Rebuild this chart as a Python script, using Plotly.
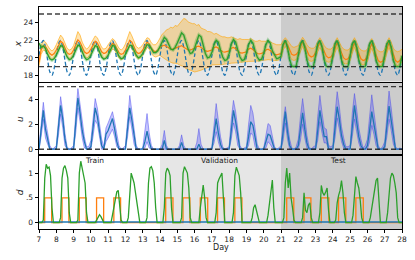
import numpy as np
import plotly.graph_objects as go
from plotly.subplots import make_subplots

# ---------------- data ----------------
DAY_START, DAY_END = 7, 28
SAMPLES_X = 8     # samples per day for x and u series
SAMPLES_D = 12    # samples per day for d series

# reference temperature (blue dashed), one row per day
x_ref_rows = [
    [20.25, 21.58, 21.98, 21.22, 19.75, 18.42, 18.02, 18.78],
    [20.25, 21.58, 21.98, 21.22, 19.75, 18.42, 18.02, 18.78],
    [20.25, 21.58, 21.98, 21.22, 19.75, 18.42, 18.02, 18.78],
    [20.25, 21.58, 21.98, 21.22, 19.75, 18.42, 18.02, 18.78],
    [20.25, 21.58, 21.98, 21.22, 19.75, 18.42, 18.02, 18.78],
    [20.25, 21.58, 21.98, 21.22, 19.75, 18.42, 18.02, 18.78],
    [20.25, 21.58, 21.98, 21.22, 19.75, 18.42, 18.02, 18.78],
    [20.25, 21.58, 21.98, 21.22, 19.75, 18.42, 18.02, 18.78],
    [20.25, 21.58, 21.98, 21.22, 19.75, 18.42, 18.02, 18.78],
    [20.25, 21.58, 21.98, 21.22, 19.75, 18.42, 18.02, 18.78],
    [20.25, 21.58, 21.98, 21.22, 19.75, 18.42, 18.02, 18.78],
    [20.25, 21.58, 21.98, 21.22, 19.75, 18.42, 18.02, 18.78],
    [20.25, 21.58, 21.98, 21.22, 19.75, 18.42, 18.02, 18.78],
    [20.25, 21.58, 21.98, 21.22, 19.75, 18.42, 18.02, 18.78],
    [20.25, 21.58, 21.98, 21.22, 19.75, 18.42, 18.02, 18.78],
    [20.25, 21.58, 21.98, 21.22, 19.75, 18.42, 18.02, 18.78],
    [20.25, 21.58, 21.98, 21.22, 19.75, 18.42, 18.02, 18.78],
    [20.25, 21.58, 21.98, 21.22, 19.75, 18.42, 18.02, 18.78],
    [20.25, 21.58, 21.98, 21.22, 19.75, 18.42, 18.02, 18.78],
    [20.25, 21.58, 21.98, 21.22, 19.75, 18.42, 18.02, 18.78],
    [20.25, 21.58, 21.98, 21.22, 19.75, 18.42, 18.02, 18.78],
]
x_ref_end = 20.25

# green: true/simulated state x
x_true_rows = [
    [21.7, 21.2, 21.35, 21.05, 20.4, 19.9, 19.75, 19.9],
    [20.3, 20.9, 21.4, 21.3, 20.7, 20.1, 19.8, 19.9],
    [20.3, 21.0, 21.45, 21.35, 20.7, 20.1, 19.8, 19.9],
    [20.3, 20.9, 21.4, 21.3, 20.7, 20.1, 19.85, 19.95],
    [20.3, 20.9, 21.4, 21.35, 20.8, 20.2, 19.9, 20.0],
    [20.4, 21.0, 21.45, 21.4, 20.85, 20.3, 20.0, 20.15],
    [20.5, 21.0, 21.5, 21.45, 21.0, 20.6, 20.6, 20.8],
    [21.3, 21.9, 22.35, 22.1, 21.5, 21.0, 20.9, 21.2],
    [21.7, 22.4, 22.85, 22.6, 21.8, 21.0, 20.5, 20.6],
    [21.1, 22.0, 22.6, 22.4, 21.4, 20.5, 20.0, 20.1],
    [20.6, 21.5, 22.0, 21.8, 20.9, 20.1, 19.7, 19.8],
    [20.5, 21.6, 22.1, 21.8, 20.9, 20.1, 19.7, 19.8],
    [20.5, 21.5, 22.0, 21.7, 20.8, 20.1, 19.75, 19.85],
    [20.5, 21.5, 22.0, 21.7, 20.8, 20.4, 19.9, 20.0],
    [20.2, 21.55, 21.98, 21.2, 19.8, 19.05, 19.0, 19.05],
    [20.25, 21.58, 21.98, 21.22, 19.75, 19.02, 19.0, 19.02],
    [20.25, 21.58, 21.98, 21.22, 19.75, 19.02, 19.0, 19.02],
    [20.25, 21.58, 21.98, 21.22, 19.75, 19.02, 19.0, 19.02],
    [20.25, 21.58, 21.98, 21.22, 19.75, 19.02, 19.0, 19.02],
    [20.25, 21.58, 21.98, 21.22, 19.75, 19.02, 19.0, 19.02],
    [20.25, 21.58, 21.98, 21.22, 19.75, 19.02, 19.0, 19.02],
]
x_true_end = 20.25

# orange: predicted x mean
x_pred_rows = [
    [19.5, 20.9, 21.4, 21.3, 20.9, 20.5, 20.3, 20.5],
    [20.9, 21.5, 21.9, 21.7, 21.1, 20.6, 20.4, 20.5],
    [20.9, 21.6, 22.05, 21.8, 21.2, 20.7, 20.5, 20.6],
    [21.0, 21.5, 21.9, 21.7, 21.1, 20.7, 20.5, 20.6],
    [20.9, 21.3, 21.65, 21.5, 21.0, 20.6, 20.4, 20.5],
    [20.9, 21.5, 22.0, 21.8, 21.2, 20.7, 20.5, 20.6],
    [20.9, 21.4, 21.8, 21.6, 21.1, 20.8, 20.7, 20.9],
    [21.2, 21.35, 21.45, 21.3, 21.1, 21.0, 21.0, 21.1],
    [21.2, 21.3, 21.4, 21.2, 21.0, 20.9, 20.9, 21.0],
    [21.1, 21.3, 21.35, 21.2, 21.0, 20.8, 20.75, 20.8],
    [20.9, 21.15, 21.25, 21.1, 20.85, 20.7, 20.65, 20.7],
    [20.8, 21.1, 21.2, 21.05, 20.8, 20.6, 20.55, 20.6],
    [20.7, 21.0, 21.1, 20.95, 20.7, 20.5, 20.45, 20.5],
    [20.6, 20.9, 21.0, 20.85, 20.6, 20.4, 20.35, 20.4],
    [20.5, 21.4, 21.85, 21.5, 20.9, 20.4, 20.3, 20.4],
    [20.7, 21.4, 21.85, 21.4, 20.8, 20.3, 20.1, 20.2],
    [20.6, 21.3, 21.8, 21.3, 20.7, 20.2, 20.0, 20.1],
    [20.4, 21.2, 21.75, 21.2, 20.5, 20.0, 19.8, 19.9],
    [20.3, 21.1, 21.75, 21.1, 20.4, 19.9, 19.7, 19.8],
    [20.2, 21.0, 21.65, 21.0, 20.3, 19.7, 19.5, 19.6],
    [20.2, 21.1, 21.75, 21.1, 20.3, 19.7, 19.5, 19.7],
]
x_pred_end = 20.1

x_pred_hi_rows = [
    [19.9, 21.4, 22.0, 21.8, 21.4, 21.0, 20.8, 21.0],
    [21.5, 22.1, 22.6, 22.3, 21.6, 21.1, 20.9, 21.0],
    [21.4, 22.2, 23.0, 22.6, 21.8, 21.3, 21.0, 21.2],
    [21.6, 22.1, 22.5, 22.3, 21.7, 21.2, 21.0, 21.1],
    [21.5, 21.9, 22.2, 22.0, 21.5, 21.1, 20.9, 21.1],
    [21.6, 22.4, 23.0, 22.5, 21.8, 21.3, 21.1, 21.2],
    [21.5, 21.9, 22.3, 22.2, 21.7, 21.5, 21.5, 21.8],
    [22.2, 22.7, 22.9, 23.2, 23.3, 23.5, 23.4, 23.7],
    [23.6, 23.9, 24.3, 24.5, 24.4, 24.1, 24.0, 23.9],
    [23.9, 23.7, 23.8, 23.4, 23.3, 23.2, 23.0, 23.0],
    [22.9, 22.7, 22.8, 22.6, 22.5, 22.4, 22.4, 22.3],
    [22.3, 22.4, 22.3, 22.2, 22.1, 22.2, 22.1, 22.1],
    [22.1, 22.1, 22.2, 22.0, 21.9, 21.9, 22.0, 21.9],
    [21.9, 21.9, 22.0, 21.8, 21.7, 21.6, 21.5, 21.5],
    [21.5, 22.0, 22.3, 22.0, 21.6, 21.3, 21.2, 21.3],
    [21.4, 21.9, 22.35, 22.0, 21.5, 21.2, 21.1, 21.1],
    [21.3, 21.9, 22.3, 21.9, 21.4, 21.1, 21.0, 21.0],
    [21.2, 21.8, 22.3, 21.8, 21.3, 21.0, 20.9, 20.9],
    [21.1, 21.8, 22.3, 21.8, 21.2, 20.9, 20.8, 20.8],
    [21.0, 21.7, 22.2, 21.7, 21.1, 20.8, 20.7, 20.7],
    [21.0, 21.8, 22.3, 21.8, 21.1, 20.8, 20.7, 20.8],
]
x_pred_hi_end = 21.0

x_pred_lo_rows = [
    [19.1, 20.4, 20.9, 20.8, 20.4, 20.0, 19.8, 20.0],
    [20.4, 21.0, 21.3, 21.2, 20.6, 20.1, 19.9, 20.0],
    [20.4, 21.1, 21.4, 21.2, 20.6, 20.2, 20.0, 20.1],
    [20.5, 21.0, 21.3, 21.1, 20.5, 20.1, 19.9, 20.0],
    [20.3, 20.7, 21.0, 20.9, 20.4, 20.0, 19.8, 19.9],
    [20.3, 20.9, 21.3, 21.1, 20.5, 20.1, 19.9, 20.0],
    [20.3, 20.8, 21.2, 21.0, 20.5, 20.2, 20.1, 20.2],
    [20.3, 20.1, 19.9, 19.7, 19.6, 19.5, 19.4, 19.4],
    [19.35, 19.2, 19.1, 19.0, 18.8, 18.7, 18.6, 18.5],
    [18.4, 18.45, 18.5, 18.6, 18.7, 18.8, 18.9, 19.0],
    [19.2, 19.2, 19.25, 19.2, 19.2, 19.25, 19.3, 19.3],
    [19.35, 19.4, 19.4, 19.45, 19.45, 19.5, 19.5, 19.5],
    [19.55, 19.6, 19.6, 19.6, 19.6, 19.65, 19.65, 19.7],
    [19.7, 19.75, 19.8, 19.75, 19.7, 19.7, 19.7, 19.75],
    [19.9, 20.9, 21.3, 20.9, 20.2, 19.8, 19.7, 19.8],
    [20.1, 20.8, 21.3, 20.8, 20.1, 19.7, 19.6, 19.7],
    [20.0, 20.7, 21.2, 20.7, 20.0, 19.6, 19.5, 19.6],
    [19.8, 20.6, 21.2, 20.6, 19.8, 19.4, 19.3, 19.4],
    [19.7, 20.5, 21.2, 20.5, 19.7, 19.3, 19.2, 19.3],
    [19.6, 20.4, 21.1, 20.4, 19.6, 19.2, 19.1, 19.2],
    [19.6, 20.5, 21.2, 20.5, 19.6, 19.2, 19.1, 19.3],
]
x_pred_lo_end = 19.5

# input u: mean and band
u_mean_rows = [
    [0.0, 1.6, 3.1, 1.6, 0.9, 0.0, 0.0, 0.0],
    [0.0, 1.8, 3.5, 2.4, 0.8, 0.0, 0.0, 0.0],
    [0.0, 2.1, 4.1, 2.9, 1.5, 0.6, 0.0, 0.0],
    [0.2, 1.7, 3.3, 2.6, 1.4, 0.3, 0.0, 1.2],
    [1.5, 2.0, 2.45, 1.6, 0.6, 0.0, 0.0, 0.0],
    [0.0, 1.7, 3.3, 2.3, 1.0, 0.0, 0.0, 0.0],
    [0.0, 0.6, 1.45, 0.6, 0.0, 0.0, 0.0, 0.0],
    [0.0, 0.0, 0.7, 0.0, 0.0, 0.0, 0.0, 0.0],
    [0.0, 0.0, 0.55, 0.0, 0.0, 0.0, 0.0, 0.0],
    [0.0, 0.0, 0.4, 0.0, 0.0, 0.0, 0.0, 0.0],
    [0.0, 1.2, 2.45, 1.3, 0.4, 0.0, 0.0, 0.0],
    [0.0, 1.5, 3.1, 2.2, 0.9, 0.0, 0.0, 0.0],
    [0.0, 1.0, 2.2, 1.9, 0.8, 0.0, 0.0, 0.0],
    [0.0, 0.6, 1.2, 1.1, 0.5, 0.0, 0.0, 0.0],
    [0.0, 1.4, 3.0, 1.4, 0.3, 0.0, 0.0, 0.0],
    [0.3, 1.5, 2.9, 1.6, 0.5, 0.0, 0.0, 0.0],
    [0.0, 1.5, 3.1, 2.0, 1.0, 1.0, 0.0, 0.0],
    [0.0, 1.7, 3.4, 2.4, 1.1, 0.4, 0.0, 0.0],
    [0.0, 1.8, 3.5, 2.2, 1.0, 0.3, 0.0, 0.0],
    [0.3, 1.5, 3.0, 2.0, 0.8, 0.0, 0.0, 0.0],
    [0.2, 1.8, 3.45, 2.3, 1.0, 0.0, 0.0, 0.0],
]
u_mean_end = 0.0

u_hi_rows = [
    [0.2, 2.2, 3.75, 2.3, 1.4, 0.3, 0.0, 0.1],
    [0.3, 2.5, 4.2, 3.0, 1.3, 0.2, 0.0, 0.1],
    [0.3, 2.8, 4.85, 3.6, 2.1, 1.0, 0.2, 0.2],
    [0.7, 2.4, 4.05, 3.3, 2.0, 0.8, 0.2, 1.7],
    [2.1, 2.6, 3.0, 2.2, 1.1, 0.3, 0.0, 0.1],
    [0.3, 2.5, 4.3, 3.0, 1.6, 0.3, 0.0, 0.0],
    [0.1, 1.3, 2.85, 1.3, 0.3, 0.0, 0.0, 0.0],
    [0.0, 0.4, 1.5, 0.3, 0.0, 0.0, 0.0, 0.0],
    [0.0, 0.3, 1.15, 0.3, 0.0, 0.0, 0.0, 0.0],
    [0.0, 0.5, 1.65, 0.4, 0.0, 0.0, 0.0, 0.0],
    [0.2, 2.2, 3.65, 2.3, 1.0, 0.2, 0.0, 0.1],
    [0.2, 2.4, 3.9, 3.0, 1.6, 0.3, 0.0, 0.1],
    [0.2, 2.0, 3.5, 2.9, 1.5, 0.4, 0.0, 0.0],
    [0.1, 1.2, 2.05, 1.9, 1.0, 0.2, 0.0, 0.1],
    [0.3, 2.2, 3.4, 2.2, 0.8, 0.1, 0.0, 0.2],
    [0.8, 2.6, 4.05, 2.6, 1.1, 0.2, 0.0, 0.2],
    [0.3, 2.6, 4.3, 2.9, 1.7, 1.6, 0.3, 0.2],
    [0.3, 2.8, 4.6, 3.4, 1.8, 0.9, 0.2, 0.2],
    [0.3, 2.9, 4.45, 3.2, 1.7, 0.8, 0.1, 0.3],
    [0.8, 2.6, 4.35, 3.0, 1.5, 0.3, 0.0, 0.2],
    [0.6, 2.9, 4.65, 3.3, 1.7, 0.2, 0.0, 0.1],
]
u_hi_end = 0.0

u_lo_rows = [
    [0.0, 1.0, 2.4, 0.9, 0.4, 0.0, 0.0, 0.0],
    [0.0, 1.1, 2.8, 1.7, 0.3, 0.0, 0.0, 0.0],
    [0.0, 1.3, 3.3, 2.2, 0.9, 0.1, 0.0, 0.0],
    [0.0, 1.0, 2.3, 2.0, 0.8, 0.0, 0.0, 0.6],
    [0.9, 1.3, 1.6, 1.0, 0.2, 0.0, 0.0, 0.0],
    [0.0, 1.0, 2.6, 1.6, 0.4, 0.0, 0.0, 0.0],
    [0.0, 0.1, 0.6, 0.1, 0.0, 0.0, 0.0, 0.0],
    [0.0, 0.0, 0.0, 0.0, 0.0, 0.0, 0.0, 0.0],
    [0.0, 0.0, 0.0, 0.0, 0.0, 0.0, 0.0, 0.0],
    [0.0, 0.0, 0.0, 0.0, 0.0, 0.0, 0.0, 0.0],
    [0.0, 0.5, 1.4, 0.6, 0.0, 0.0, 0.0, 0.0],
    [0.0, 0.8, 2.1, 1.4, 0.3, 0.0, 0.0, 0.0],
    [0.0, 0.3, 1.3, 1.1, 0.2, 0.0, 0.0, 0.0],
    [0.0, 0.1, 0.6, 0.4, 0.1, 0.0, 0.0, 0.0],
    [0.0, 0.7, 2.1, 0.8, 0.0, 0.0, 0.0, 0.0],
    [0.0, 0.7, 2.0, 0.9, 0.1, 0.0, 0.0, 0.0],
    [0.0, 0.7, 2.2, 1.3, 0.5, 0.5, 0.0, 0.0],
    [0.0, 0.9, 2.5, 1.6, 0.6, 0.1, 0.0, 0.0],
    [0.0, 1.0, 2.4, 1.4, 0.5, 0.0, 0.0, 0.0],
    [0.0, 0.6, 1.9, 1.2, 0.3, 0.0, 0.0, 0.0],
    [0.0, 1.0, 2.4, 1.5, 0.4, 0.0, 0.0, 0.0],
]
u_lo_end = 0.0

# disturbance d (green), 12 samples per day
d_rows = [
    [0, 0, 0, 0.05, 0.9, 1.18, 1.1, 1.12, 0.95, 0.3, 0, 0],
    [0, 0, 0, 0.1, 0.9, 1.1, 1.15, 1.05, 0.9, 0.2, 0, 0],
    [0, 0, 0, 0.05, 1.0, 1.24, 1.1, 0.95, 0.8, 0.2, 0, 0],
    [0, 0, 0, 0, 0.05, 0.12, 0.16, 0.12, 0.04, 0, 0, 0],
    [0, 0, 0, 0.15, 0.3, 0.45, 0.62, 0.65, 0.3, 0.05, 0, 0],
    [0, 0, 0.1, 0.5, 1.0, 0.9, 0.8, 0.6, 0.4, 0.2, 0, 0],
    [0, 0, 0, 0.1, 0.8, 1.1, 1.13, 1.05, 0.8, 0.3, 0, 0],
    [0, 0, 0, 0.3, 1.0, 1.1, 1.05, 0.95, 0.3, 0, 0, 0],
    [0, 0, 0, 0.1, 1.0, 1.13, 1.05, 1.0, 0.7, 0.1, 0, 0],
    [0, 0, 0, 0, 0.3, 0.6, 0.76, 0.5, 0.1, 0, 0, 0],
    [0, 0, 0, 0.2, 0.8, 0.88, 0.95, 1.0, 0.5, 0, 0, 0],
    [0, 0, 0, 0.2, 0.95, 1.12, 1.05, 0.95, 0.6, 0, 0, 0],
    [0, 0, 0, 0, 0.1, 0.3, 0.36, 0.25, 0.1, 0, 0, 0],
    [0, 0, 0, 0.15, 0.4, 0.6, 0.86, 0.3, 0, 0, 0, 0],
    [0, 0, 0.1, 0.8, 1.1, 0.7, 1.0, 0.5, 0.3, 0.05, 0, 0],
    [0, 0, 0, 0.1, 0.6, 0.25, 0.2, 0.35, 0.4, 0.1, 0, 0],
    [0, 0, 0, 0.2, 0.75, 0.6, 0.55, 0.62, 0.7, 0.25, 0, 0],
    [0, 0, 0.05, 0.4, 0.55, 0.65, 0.85, 0.6, 0.2, 0, 0, 0],
    [0, 0, 0.15, 0.5, 0.93, 0.8, 0.7, 0.45, 0.1, 0, 0, 0],
    [0, 0, 0.1, 0.3, 0.55, 0.75, 0.85, 0.9, 0.3, 0, 0, 0],
    [0, 0, 0.2, 0.55, 0.9, 1.0, 0.95, 0.8, 0.6, 0.1, 0, 0],
]
d_end = 0.0

# occupancy (orange step): on / off times in days, level
occ_on = [7.33, 8.33, 9.33, 10.33, 11.33, 14.33, 15.33, 16.33, 17.33, 18.33,
          21.33, 22.33, 23.33, 24.33, 25.33]
occ_off = [7.73, 8.73, 9.73, 10.74, 11.72, 14.75, 15.73, 16.76, 17.73, 18.74,
           21.74, 22.73, 23.77, 24.75, 25.76]
occ_level = 0.5
# third disturbance (blue), flat
d_other_t = [7, 28]
d_other = [0.012, 0.012]

# constraints
x_bounds = [19, 25]
u_bounds = [0, 5]

# periods
periods = ["Train", "Validation", "Test"]
period_edges = [7, 14, 21, 28]
period_label_x = [10.2, 17.47, 24.27]

x_ticks = list(range(7, 29))


def flat(rows, end):
    out = []
    for r in rows:
        out.extend(r)
    out.append(end)
    return out


t_x = DAY_START + np.arange(len(x_ref_rows) * SAMPLES_X + 1) / SAMPLES_X
t_d = DAY_START + np.arange(len(d_rows) * SAMPLES_D + 1) / SAMPLES_D

x_ref = flat(x_ref_rows, x_ref_end)
x_true = flat(x_true_rows, x_true_end)
x_pred = flat(x_pred_rows, x_pred_end)
x_hi = flat(x_pred_hi_rows, x_pred_hi_end)
x_lo = flat(x_pred_lo_rows, x_pred_lo_end)
u_mean = flat(u_mean_rows, u_mean_end)
u_hi = flat(u_hi_rows, u_hi_end)
u_lo = flat(u_lo_rows, u_lo_end)
d_green = flat(d_rows, d_end)

occ_t = [DAY_START]
occ_v = [0]
for a, b in zip(occ_on, occ_off):
    occ_t += [a, b]
    occ_v += [occ_level, 0]
occ_t.append(DAY_END)
occ_v.append(0)

# ---------------- figure ----------------
BLUE = "#1f77b4"
ORANGE = "#ff7f0e"
GREEN = "#2ca02c"
FONT = "DejaVu Sans"

fig = make_subplots(rows=3, cols=1, shared_xaxes=True, vertical_spacing=0.005)

# top: x
fig.add_trace(go.Scatter(x=t_x, y=x_lo, mode="lines",
                         line=dict(color="rgba(255,165,0,0.75)", width=0.8),
                         showlegend=False), row=1, col=1)
fig.add_trace(go.Scatter(x=t_x, y=x_hi, mode="lines", fill="tonexty",
                         fillcolor="rgba(255,165,0,0.3)",
                         line=dict(color="rgba(255,165,0,0.75)", width=0.8),
                         showlegend=False), row=1, col=1)
fig.add_trace(go.Scatter(x=t_x, y=x_ref, mode="lines",
                         line=dict(color=BLUE, width=1.3, dash="4px,2.5px",
                                   shape="spline", smoothing=0.8),
                         showlegend=False), row=1, col=1)
fig.add_trace(go.Scatter(x=t_x, y=x_pred, mode="lines",
                         line=dict(color=ORANGE, width=1.2),
                         showlegend=False), row=1, col=1)
fig.add_trace(go.Scatter(x=t_x, y=x_true, mode="lines",
                         line=dict(color="rgba(44,160,44,0.3)", width=3.5),
                         showlegend=False), row=1, col=1)
fig.add_trace(go.Scatter(x=t_x, y=x_true, mode="lines",
                         line=dict(color=GREEN, width=1.3),
                         showlegend=False), row=1, col=1)

# middle: u
fig.add_trace(go.Scatter(x=t_x, y=u_lo, mode="lines",
                         line=dict(color="rgba(70,70,235,0.6)", width=0.8),
                         showlegend=False), row=2, col=1)
fig.add_trace(go.Scatter(x=t_x, y=u_hi, mode="lines", fill="tonexty",
                         fillcolor="rgba(60,60,255,0.3)",
                         line=dict(color="rgba(70,70,235,0.6)", width=0.8),
                         showlegend=False), row=2, col=1)
fig.add_trace(go.Scatter(x=t_x, y=u_mean, mode="lines",
                         line=dict(color=BLUE, width=1.3),
                         showlegend=False), row=2, col=1)

# bottom: d
fig.add_trace(go.Scatter(x=occ_t, y=occ_v, mode="lines",
                         line=dict(color=ORANGE, width=1.3, shape="hv"),
                         showlegend=False), row=3, col=1)
fig.add_trace(go.Scatter(x=d_other_t, y=d_other, mode="lines",
                         line=dict(color=BLUE, width=1.3),
                         showlegend=False), row=3, col=1)
fig.add_trace(go.Scatter(x=t_d, y=d_green, mode="lines",
                         line=dict(color=GREEN, width=1.3),
                         showlegend=False), row=3, col=1)

shapes = []
shade = ["rgba(0,0,0,0)", "rgba(128,128,128,0.2)", "rgba(128,128,128,0.4)"]
for i, (xa, ya) in enumerate([("x", "y"), ("x2", "y2"), ("x3", "y3")]):
    for k in range(1, 3):
        shapes.append(dict(type="rect", xref=xa, yref=ya + " domain",
                           x0=period_edges[k], x1=period_edges[k + 1], y0=0, y1=1,
                           fillcolor=shade[k], line=dict(width=0), layer="below"))
for yb in x_bounds:
    shapes.append(dict(type="line", xref="x domain", yref="y", x0=0, x1=1, y0=yb, y1=yb,
                       line=dict(color="rgba(30,30,30,0.85)", width=1.4, dash="5px,3px")))
for yb in u_bounds:
    shapes.append(dict(type="line", xref="x2 domain", yref="y2", x0=0, x1=1, y0=yb, y1=yb,
                       line=dict(color="rgba(30,30,30,0.85)", width=1.4, dash="5px,3px")))

annotations = []
for name, xc in zip(periods, period_label_x):
    annotations.append(dict(x=xc, y=1.245, xref="x3", yref="y3", text=name,
                            showarrow=False, font=dict(size=7.5, color="#222", family=FONT)))
for txt, xp, yp in [("<i>x</i>", -0.057, 0.832), ("<i>u</i>", -0.052, 0.496),
                    ("<i>d</i>", -0.052, 0.166)]:
    annotations.append(dict(x=xp, y=yp, xref="paper", yref="paper", text=txt,
                            textangle=-90, showarrow=False, xanchor="center",
                            yanchor="middle",
                            font=dict(size=9, color="#222", family=FONT)))
annotations.append(dict(x=17.5, y=-0.083, xref="x3", yref="paper", text="Day",
                        showarrow=False, yanchor="middle", xanchor="center",
                        font=dict(size=8, color="#222", family=FONT)))

fig.update_layout(
    width=415, height=260,
    margin=dict(l=39, r=13, t=7, b=31, autoexpand=False),
    plot_bgcolor="white", paper_bgcolor="white",
    font=dict(family=FONT, size=7.5, color="#222"),
    shapes=shapes, annotations=annotations, showlegend=False,
)

axis_common = dict(showline=True, linecolor="black", linewidth=0.9, mirror=True,
                   showgrid=False, zeroline=False)
fig.update_xaxes(range=[DAY_START, DAY_END], **axis_common)
fig.update_xaxes(showticklabels=False, ticks="", row=1, col=1)
fig.update_xaxes(showticklabels=False, ticks="", row=2, col=1)
fig.update_xaxes(tickvals=x_ticks, ticks="outside", ticklen=3.5, tickwidth=0.8,
                 tickcolor="black", tickfont=dict(size=7.5), row=3, col=1)

fig.update_yaxes(ticks="outside", ticklen=3.5, tickwidth=0.8, tickcolor="black",
                 tickfont=dict(size=7.5), **axis_common)
fig.update_yaxes(range=[17.3, 25.8], tickvals=[18, 20, 22, 24], row=1, col=1)
fig.update_yaxes(range=[-0.45, 5.3], tickvals=[0, 2, 4], row=2, col=1)
fig.update_yaxes(range=[-0.13, 1.36], tickvals=[0, 0.5, 1], ticktext=["0", ".5", "1"],
                 row=3, col=1)

fig.layout.yaxis.domain = [0.664, 1.0]
fig.layout.yaxis2.domain = [0.334, 0.658]
fig.layout.yaxis3.domain = [0.0, 0.332]

fig.write_html("out.html", config={"displayModeBar": False},
               post_script="document.body.style.margin='0px';")
